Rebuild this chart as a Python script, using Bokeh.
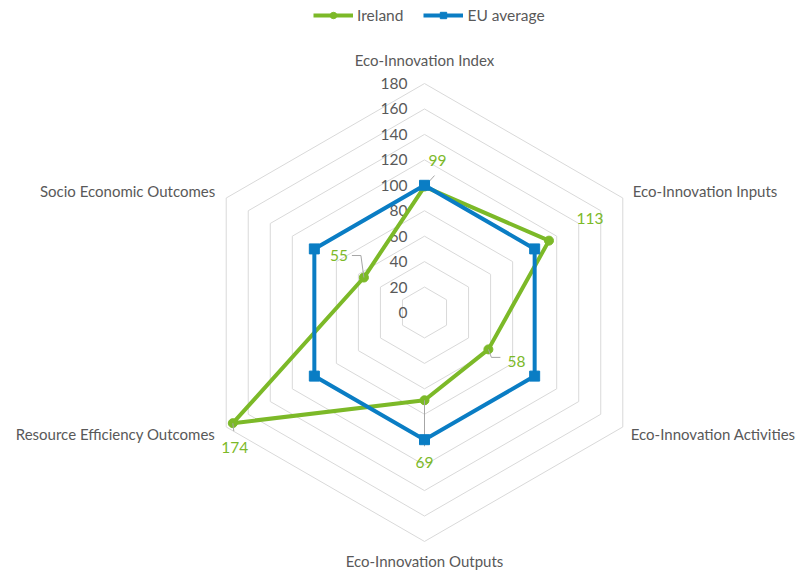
import math
from bokeh.plotting import figure
from bokeh.models import Legend, LegendItem
from bokeh.core.properties import value
from bokeh.embed import file_html
from bokeh.resources import INLINE

categories = ["Eco-Innovation Index", "Eco-Innovation Inputs", "Eco-Innovation Activities",
              "Eco-Innovation Outputs", "Resource Efficiency Outcomes", "Socio Economic Outcomes"]
ireland = [99, 113, 58, 69, 174, 55]
eu_average = [100, 100, 100, 100, 100, 100]
ticks = [0, 20, 40, 60, 80, 100, 120, 140, 160, 180]

GREEN = "#7cb928"
BLUE = "#0a7dc4"
GRID = "#d9d9d9"
TEXT = "#595959"
FONT = value("Lato")
FS = "15.5px"
CFS = "15px"

W, H = 801, 571
scale = 1.272  # px per unit
cx, cy = 424, 312  # center in canvas px (from top-left)
x0 = -cx / scale
x1 = (W - cx) / scale
y0 = -(H - cy) / scale
y1 = cy / scale

p = figure(width=W, height=H, x_range=(x0, x1), y_range=(y0, y1),
           output_backend="svg", toolbar_location=None, min_border=0,
           outline_line_color=None)
p.axis.visible = False
p.grid.visible = False
p.background_fill_color = "white"

n = len(categories)
angles = [math.radians(90 - 360 / n * i) for i in range(n)]


def xy(vals):
    xs = [v * math.cos(a) for v, a in zip(vals, angles)]
    ys = [v * math.sin(a) for v, a in zip(vals, angles)]
    return xs, ys


# grid hexagons
for t in ticks[1:]:
    xs, ys = xy([t] * n)
    p.line(xs + [xs[0]], ys + [ys[0]], line_color=GRID, line_width=1)

# tick labels
p.text(x=[0] * len(ticks), y=ticks, text=[str(t) for t in ticks],
       x_offset=-17, text_align="right", text_baseline="middle",
       text_font=FONT, text_font_size=FS, text_color=TEXT)

# category labels
cat_offsets = [(0, -15, "center", "bottom"), (10, -7, "left", "middle"), (8, 7, "left", "middle"),
               (0, 20, "center", "middle"), (-11, 7, "right", "middle"), (-11, -7, "right", "middle")]
rmax = ticks[-1]
gx, gy = xy([rmax] * n)
for i, cat in enumerate(categories):
    dx, dy, al, bl = cat_offsets[i]
    p.text(x=[gx[i]], y=[gy[i]], text=[cat], x_offset=dx, y_offset=dy,
           text_align=al, text_baseline=bl, text_font=FONT, text_font_size=CFS,
           text_color=TEXT)

# series
ix, iy = xy(ireland)
ex, ey = xy(eu_average)
r_ie_line = p.line(ix + [ix[0]], iy + [iy[0]], line_color=GREEN, line_width=4, line_join="round")
r_ie_pts = p.scatter(ix, iy, marker="circle", size=9, fill_color=GREEN, line_color=GREEN)

# leader lines for data labels (pixel offsets from the point)
leaders = [
    [(0, 0), (10, -11)],
    [],
    [(0, 0), (3, 8), (12, 8)],
    [(0, 0), (0, 46)],
    [(0, 0), (1, 8)],
    [(0, 0), (-3, -22), (-12, -22)],
]
for i, segs in enumerate(leaders):
    if not segs:
        continue
    lx = [ix[i] + dx / scale for dx, dy in segs]
    ly = [iy[i] - dy / scale for dx, dy in segs]
    p.line(lx, ly, line_color="#a6a6a6", line_width=1)

r_eu_line = p.line(ex + [ex[0]], ey + [ey[0]], line_color=BLUE, line_width=4, line_join="miter")
r_eu_pts = p.scatter(ex, ey, marker="square", size=10, fill_color=BLUE, line_color=BLUE)

# data labels
label_offsets = [(13, -26, "center"), (41, -22, "center"), (28, 12, "center"),
                 (0, 62, "center"), (2, 24, "center"), (-25, -22, "center")]
for i, v in enumerate(ireland):
    dx, dy, al = label_offsets[i]
    p.text(x=[ix[i]], y=[iy[i]], text=[str(v)], x_offset=dx, y_offset=dy,
           text_align=al, text_baseline="middle", text_font=FONT,
           text_font_size=FS, text_color=GREEN)

legend = Legend(items=[LegendItem(label="Ireland", renderers=[r_ie_line, r_ie_pts]),
                       LegendItem(label="EU average", renderers=[r_eu_line, r_eu_pts])],
                orientation="horizontal", location=(313, H - 24),
                border_line_color=None, background_fill_alpha=0,
                label_text_font="Lato", label_text_font_size=FS,
                label_text_color=TEXT, glyph_width=40, glyph_height=16,
                spacing=20, padding=0, margin=0, label_standoff=4)
p.add_layout(legend)

open("out.html", "w").write(file_html(p, INLINE))
